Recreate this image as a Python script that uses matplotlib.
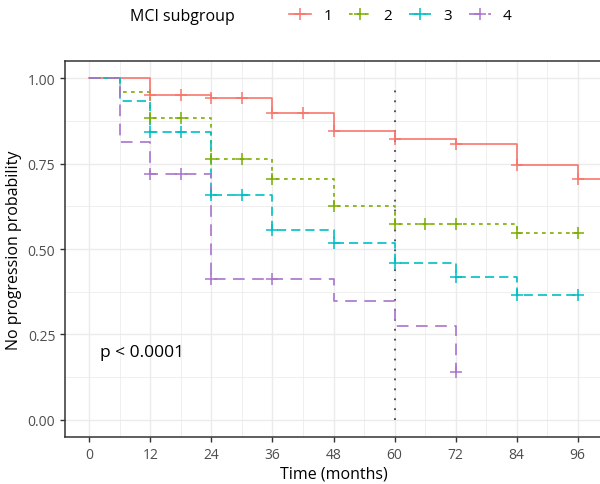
import numpy as np
import matplotlib
matplotlib.use("Agg")
import matplotlib.pyplot as plt
from matplotlib.lines import Line2D

# Kaplan-Meier step data
groups = ["1", "2", "3", "4"]
times = {
    "1": [0, 12, 24, 36, 48, 60, 72, 84, 96],
    "2": [0, 6, 12, 24, 36, 48, 60, 84],
    "3": [0, 6, 12, 24, 36, 48, 60, 72, 84],
    "4": [0, 6, 12, 24, 48, 60, 72],
}
surv = {
    "1": [1.0, 0.951, 0.942, 0.899, 0.845, 0.823, 0.808, 0.747, 0.704],
    "2": [1.0, 0.960, 0.883, 0.762, 0.704, 0.625, 0.574, 0.547],
    "3": [1.0, 0.932, 0.842, 0.658, 0.556, 0.518, 0.458, 0.419, 0.366],
    "4": [1.0, 0.813, 0.720, 0.412, 0.347, 0.276, 0.139],
}
end_time = {"1": 102, "2": 96, "3": 96, "4": 72}
censor = {
    "1": [12, 18, 24, 30, 36, 42, 48, 60, 72, 84, 96],
    "2": [12, 18, 24, 30, 36, 48, 60, 66, 72, 84, 96],
    "3": [12, 18, 24, 30, 36, 48, 60, 72, 84, 96],
    "4": [12, 18, 24, 36, 72],
}
xticks = [0, 12, 24, 36, 48, 60, 72, 84, 96]
yticks = [0.0, 0.25, 0.5, 0.75, 1.0]

colors = {"1": "#F8766D", "2": "#7CAE00", "3": "#00BFC4", "4": "#A874CC"}
styles = {"1": "-", "2": (0, (2.2, 2.6)), "3": (0, (5.5, 3)), "4": (0, (7, 4.5))}

plt.rcParams.update({"font.family": ["Open Sans", "DejaVu Sans"], "font.size": 10})
fig = plt.figure(figsize=(6, 4.85), dpi=100)
ax = fig.add_axes([65 / 600, 1 - 438 / 485, 537 / 600, 376 / 485])

# grid like theme_bw
for v in xticks:
    ax.axvline(v, color="#EBEBEB", lw=1.0, zorder=0)
for v in np.arange(6, 102, 12):
    ax.axvline(v, color="#EBEBEB", lw=0.55, zorder=0)
for v in yticks:
    ax.axhline(v, color="#EBEBEB", lw=1.0, zorder=0)
for v in [0.125, 0.375, 0.625, 0.875]:
    ax.axhline(v, color="#EBEBEB", lw=0.55, zorder=0)

for g in groups:
    t = np.array(times[g] + [end_time[g]])
    s = np.array(surv[g] + [surv[g][-1]])
    ax.step(t, s, where="post", color=colors[g], ls=styles[g], lw=1.2, zorder=2)
    ct = np.array(censor[g])
    cs = np.array(surv[g])[np.searchsorted(times[g], ct, side="right") - 1]
    ax.plot(ct, cs, ls="none", marker="+", ms=9, mew=1.1, color=colors[g], zorder=3)

ax.vlines(60, 0, 0.985, colors="#444444", linestyles=(0, (1, 4.5)), lw=1.3, zorder=1)
ax.text(2, 0.2, "p < 0.0001", fontsize=12.5, ha="left", va="center")

ax.set_xlim(-4.8, 100.8)
ax.set_ylim(-0.05, 1.05)
ax.set_xticks(xticks)
ax.set_yticks(yticks)
ax.set_yticklabels([f"{v:.2f}" for v in yticks])
ax.tick_params(labelsize=10, labelcolor="#4D4D4D", color="#333333", length=3.5, width=1.0)
for side in ["left", "top", "bottom"]:
    ax.spines[side].set_color("#333333")
    ax.spines[side].set_linewidth(1.1)
ax.spines["right"].set_visible(False)
ax.set_xlabel("Time (months)", fontsize=11.5, labelpad=3)
ax.set_ylabel("No progression probability", fontsize=11.5, labelpad=4)

fig.text(130 / 600, 1 - 17 / 485, "MCI subgroup", fontsize=11.5, ha="left", va="center")
handles = [Line2D([], [], color=colors[g], ls=styles[g], lw=1.2, marker="+", ms=9, mew=1.1)
           for g in groups]
fig.legend(handles, groups, ncol=4, loc="center left", bbox_to_anchor=(289 / 600, 1 - 17 / 485),
           frameon=False, fontsize=11, handlelength=1.45, handletextpad=0.8, columnspacing=1.1,
           borderaxespad=0, borderpad=0)

fig.savefig("out.png", dpi=100)
